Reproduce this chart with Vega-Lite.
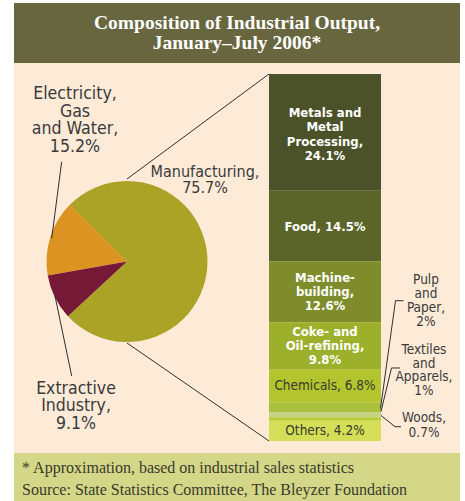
{
  "$schema": "https://vega.github.io/schema/vega-lite/v6.json",
  "width": 465,
  "height": 501,
  "padding": 0,
  "autosize": {"type": "none"},
  "background": "white",
  "config": {"view": {"stroke": null}},
  "datasets": {
    "sectors": [
      {"sector": "Manufacturing", "value": 75.7, "label": "Manufacturing,\n75.7%"},
      {"sector": "Electricity, Gas and Water", "value": 15.2, "label": "Electricity,\nGas\nand Water,\n15.2%"},
      {"sector": "Extractive Industry", "value": 9.1, "label": "Extractive\nIndustry,\n9.1%"}
    ],
    "manufacturing": [
      {"sector": "Metals and Metal Processing", "value": 24.1, "label": "Metals and\nMetal\nProcessing,\n24.1%"},
      {"sector": "Food", "value": 14.5, "label": "Food, 14.5%"},
      {"sector": "Machine-building", "value": 12.6, "label": "Machine-\nbuilding,\n12.6%"},
      {"sector": "Coke- and Oil-refining", "value": 9.8, "label": "Coke- and\nOil-refining,\n9.8%"},
      {"sector": "Chemicals", "value": 6.8, "label": "Chemicals, 6.8%"},
      {"sector": "Pulp and Paper", "value": 2, "label": "Pulp\nand\nPaper,\n2%"},
      {"sector": "Textiles and Apparels", "value": 1, "label": "Textiles\nand\nApparels,\n1%"},
      {"sector": "Woods", "value": 0.7, "label": "Woods,\n0.7%"},
      {"sector": "Others", "value": 4.2, "label": "Others, 4.2%"}
    ],
    "notes": [
      {"title": "Composition of Industrial Output,\nJanuary–July 2006*", "footer": "* Approximation, based on industrial sales statistics\nSource: State Statistics Committee, The Bleyzer Foundation"}
    ]
  },
  "resolve": {"scale": {"color": "independent"}},
  "layer": [
    {
      "data": {"name": "notes"},
      "mark": {"type": "rect", "color": "#fdebd8"},
      "encoding": {
        "x": {"datum": 14, "type": "quantitative", "scale": {"domain": [0, 465], "nice": false, "zero": false}, "axis": null},
        "x2": {"datum": 460},
        "y": {"datum": 77.969, "type": "quantitative", "scale": {"domain": [-12.376, 90.964], "nice": false, "zero": false}, "axis": null},
        "y2": {"datum": -2.475}
      }
    },
    {
      "data": {"name": "notes"},
      "mark": {"type": "rect", "color": "#67663f"},
      "encoding": {
        "x": {"datum": 14, "type": "quantitative", "scale": {"domain": [0, 465], "nice": false, "zero": false}, "axis": null},
        "x2": {"datum": 460},
        "y": {"datum": 90.345, "type": "quantitative", "scale": {"domain": [-12.376, 90.964], "nice": false, "zero": false}, "axis": null},
        "y2": {"datum": 77.969}
      }
    },
    {
      "data": {"name": "notes"},
      "mark": {"type": "rect", "color": "#d3d787"},
      "encoding": {
        "x": {"datum": 14, "type": "quantitative", "scale": {"domain": [0, 465], "nice": false, "zero": false}, "axis": null},
        "x2": {"datum": 460},
        "y": {"datum": -2.475, "type": "quantitative", "scale": {"domain": [-12.376, 90.964], "nice": false, "zero": false}, "axis": null},
        "y2": {"datum": -12.376}
      }
    },
    {
      "data": {"name": "notes"},
      "mark": {"type": "text", "font": "Liberation Serif", "fontWeight": "bold", "fontSize": 19.5, "color": "white", "align": "center", "baseline": "middle", "lineBreak": "\n", "lineHeight": 20, "dy": -10},
      "encoding": {
        "x": {"datum": 237, "type": "quantitative", "scale": {"domain": [0, 465], "nice": false, "zero": false}, "axis": null},
        "y": {"datum": 84.157, "type": "quantitative", "scale": {"domain": [-12.376, 90.964], "nice": false, "zero": false}, "axis": null},
        "text": {"field": "title"}
      }
    },
    {
      "data": {"name": "notes"},
      "mark": {"type": "text", "font": "Liberation Serif", "fontSize": 16, "color": "#3b3a2c", "align": "left", "baseline": "middle", "lineBreak": "\n", "lineHeight": 22, "dy": -11},
      "encoding": {
        "x": {"datum": 22, "type": "quantitative", "scale": {"domain": [0, 465], "nice": false, "zero": false}, "axis": null},
        "y": {"datum": -7.838, "type": "quantitative", "scale": {"domain": [-12.376, 90.964], "nice": false, "zero": false}, "axis": null},
        "text": {"field": "footer"}
      }
    },
    {
      "data": {"name": "sectors"},
      "mark": {"type": "arc", "radius": 80.5},
      "encoding": {
        "theta": {"field": "value", "type": "quantitative", "stack": true, "scale": {"range": [-0.7906, 5.4926]}},
        "order": {"field": "sector", "sort": "descending"},
        "color": {"field": "sector", "type": "nominal", "legend": null, "scale": {"domain": ["Manufacturing", "Extractive Industry", "Electricity, Gas and Water"], "range": ["#aba326", "#761937", "#dc9321"]}},
        "x": {"datum": 127, "type": "quantitative", "scale": {"domain": [0, 465], "nice": false, "zero": false}, "axis": null},
        "y": {"datum": 37.025, "type": "quantitative", "scale": {"domain": [-12.376, 90.964], "nice": false, "zero": false}, "axis": null}
      }
    },
    {
      "data": {"name": "manufacturing"},
      "transform": [
        {"window": [{"op": "row_number", "as": "rank"}]},
        {"stack": "value", "groupby": [], "sort": [{"field": "rank", "order": "descending"}], "as": ["v0", "v1"]}
      ],
      "mark": {"type": "rect"},
      "encoding": {
        "x": {"datum": 269, "type": "quantitative", "scale": {"domain": [0, 465], "nice": false, "zero": false}, "axis": null},
        "x2": {"datum": 381},
        "y": {"field": "v0", "type": "quantitative", "scale": {"domain": [-12.376, 90.964], "nice": false, "zero": false}, "axis": null},
        "y2": {"field": "v1"},
        "color": {"field": "sector", "type": "nominal", "legend": null, "scale": {"domain": ["Metals and Metal Processing", "Food", "Machine-building", "Coke- and Oil-refining", "Chemicals", "Pulp and Paper", "Textiles and Apparels", "Woods", "Others"], "range": ["#4b522a", "#5b6429", "#7e8c2b", "#9cb02b", "#b3c52e", "#a9c03c", "#c4d486", "#b8cc38", "#d4de56"]}}
      }
    },
    {
      "data": {"name": "notes"},
      "mark": {"type": "rule", "color": "#2e2e2e", "strokeWidth": 1},
      "encoding": {
        "x": {"datum": 127, "type": "quantitative", "scale": {"domain": [0, 465], "nice": false, "zero": false}, "axis": null},
        "x2": {"datum": 269},
        "y": {"datum": 54.042, "type": "quantitative", "scale": {"domain": [-12.376, 90.964], "nice": false, "zero": false}, "axis": null},
        "y2": {"datum": 75.7}
      }
    },
    {
      "data": {"name": "notes"},
      "mark": {"type": "rule", "color": "#2e2e2e", "strokeWidth": 1},
      "encoding": {
        "x": {"datum": 127, "type": "quantitative", "scale": {"domain": [0, 465], "nice": false, "zero": false}, "axis": null},
        "x2": {"datum": 269},
        "y": {"datum": 20.214, "type": "quantitative", "scale": {"domain": [-12.376, 90.964], "nice": false, "zero": false}, "axis": null},
        "y2": {"datum": 0}
      }
    },
    {
      "data": {"name": "notes"},
      "mark": {"type": "rule", "color": "#2e2e2e", "strokeWidth": 1},
      "encoding": {
        "x": {"datum": 61.7, "type": "quantitative", "scale": {"domain": [0, 465], "nice": false, "zero": false}, "axis": null},
        "x2": {"datum": 51.7},
        "y": {"datum": 57.61, "type": "quantitative", "scale": {"domain": [-12.376, 90.964], "nice": false, "zero": false}, "axis": null},
        "y2": {"datum": 41.81}
      }
    },
    {
      "data": {"name": "notes"},
      "mark": {"type": "rule", "color": "#2e2e2e", "strokeWidth": 1},
      "encoding": {
        "x": {"datum": 55, "type": "quantitative", "scale": {"domain": [0, 465], "nice": false, "zero": false}, "axis": null},
        "x2": {"datum": 71.7},
        "y": {"datum": 29.909, "type": "quantitative", "scale": {"domain": [-12.376, 90.964], "nice": false, "zero": false}, "axis": null},
        "y2": {"datum": 13.407}
      }
    },
    {
      "data": {"name": "notes"},
      "mark": {"type": "rule", "color": "#2e2e2e", "strokeWidth": 1},
      "encoding": {
        "x": {"datum": 380.5, "type": "quantitative", "scale": {"domain": [0, 465], "nice": false, "zero": false}, "axis": null},
        "x2": {"datum": 395.5},
        "y": {"datum": 6.704, "type": "quantitative", "scale": {"domain": [-12.376, 90.964], "nice": false, "zero": false}, "axis": null},
        "y2": {"datum": 28.939}
      }
    },
    {
      "data": {"name": "notes"},
      "mark": {"type": "rule", "color": "#2e2e2e", "strokeWidth": 1},
      "encoding": {
        "x": {"datum": 395.5, "type": "quantitative", "scale": {"domain": [0, 465], "nice": false, "zero": false}, "axis": null},
        "x2": {"datum": 403.5},
        "y": {"datum": 28.939, "type": "quantitative", "scale": {"domain": [-12.376, 90.964], "nice": false, "zero": false}, "axis": null},
        "y2": {"datum": 28.939}
      }
    },
    {
      "data": {"name": "notes"},
      "mark": {"type": "rule", "color": "#2e2e2e", "strokeWidth": 1},
      "encoding": {
        "x": {"datum": 381, "type": "quantitative", "scale": {"domain": [0, 465], "nice": false, "zero": false}, "axis": null},
        "x2": {"datum": 391.5},
        "y": {"datum": 6.085, "type": "quantitative", "scale": {"domain": [-12.376, 90.964], "nice": false, "zero": false}, "axis": null},
        "y2": {"datum": 15.058}
      }
    },
    {
      "data": {"name": "notes"},
      "mark": {"type": "rule", "color": "#2e2e2e", "strokeWidth": 1},
      "encoding": {
        "x": {"datum": 391.5, "type": "quantitative", "scale": {"domain": [0, 465], "nice": false, "zero": false}, "axis": null},
        "x2": {"datum": 400},
        "y": {"datum": 15.058, "type": "quantitative", "scale": {"domain": [-12.376, 90.964], "nice": false, "zero": false}, "axis": null},
        "y2": {"datum": 15.058}
      }
    },
    {
      "data": {"name": "notes"},
      "mark": {"type": "rule", "color": "#2e2e2e", "strokeWidth": 1},
      "encoding": {
        "x": {"datum": 381, "type": "quantitative", "scale": {"domain": [0, 465], "nice": false, "zero": false}, "axis": null},
        "x2": {"datum": 395},
        "y": {"datum": 5.26, "type": "quantitative", "scale": {"domain": [-12.376, 90.964], "nice": false, "zero": false}, "axis": null},
        "y2": {"datum": 2.95}
      }
    },
    {
      "data": {"name": "notes"},
      "mark": {"type": "rule", "color": "#2e2e2e", "strokeWidth": 1},
      "encoding": {
        "x": {"datum": 395, "type": "quantitative", "scale": {"domain": [0, 465], "nice": false, "zero": false}, "axis": null},
        "x2": {"datum": 401},
        "y": {"datum": 2.95, "type": "quantitative", "scale": {"domain": [-12.376, 90.964], "nice": false, "zero": false}, "axis": null},
        "y2": {"datum": 2.95}
      }
    },
    {
      "data": {"name": "manufacturing"},
      "transform": [{"window": [{"op": "row_number", "as": "rank"}]}],
      "mark": {"type": "text", "font": "DejaVu Sans Condensed", "fontWeight": "bold", "fontSize": 13, "color": "white", "align": "center", "baseline": "middle", "lineBreak": "\n", "lineHeight": 14.5, "dy": -19.5},
      "encoding": {
        "x": {"datum": 325, "type": "quantitative", "scale": {"domain": [0, 465], "nice": false, "zero": false}, "axis": null},
        "y": {"field": "value", "type": "quantitative", "stack": "zero", "bandPosition": 0.5, "scale": {"domain": [-12.376, 90.964], "nice": false, "zero": false}, "axis": null},
        "order": {"field": "rank", "type": "quantitative", "sort": "descending"},
        "detail": {"field": "sector"},
        "text": {"condition": {"test": "datum.sector === 'Metals and Metal Processing'", "field": "label"}, "value": ""}
      }
    },
    {
      "data": {"name": "manufacturing"},
      "transform": [{"window": [{"op": "row_number", "as": "rank"}]}],
      "mark": {"type": "text", "font": "DejaVu Sans Condensed", "fontWeight": "bold", "fontSize": 13, "color": "white", "align": "center", "baseline": "middle", "lineBreak": "\n", "lineHeight": 13.8, "dy": -13.5},
      "encoding": {
        "x": {"datum": 325, "type": "quantitative", "scale": {"domain": [0, 465], "nice": false, "zero": false}, "axis": null},
        "y": {"field": "value", "type": "quantitative", "stack": "zero", "bandPosition": 0.5, "scale": {"domain": [-12.376, 90.964], "nice": false, "zero": false}, "axis": null},
        "order": {"field": "rank", "type": "quantitative", "sort": "descending"},
        "detail": {"field": "sector"},
        "text": {"condition": {"test": "datum.sector === 'Machine-building' || datum.sector === 'Coke- and Oil-refining'", "field": "label"}, "value": ""}
      }
    },
    {
      "data": {"name": "manufacturing"},
      "transform": [{"window": [{"op": "row_number", "as": "rank"}]}],
      "mark": {"type": "text", "font": "DejaVu Sans Condensed", "fontWeight": "bold", "fontSize": 13, "color": "white", "align": "center", "baseline": "middle", "dy": 1.5},
      "encoding": {
        "x": {"datum": 325, "type": "quantitative", "scale": {"domain": [0, 465], "nice": false, "zero": false}, "axis": null},
        "y": {"field": "value", "type": "quantitative", "stack": "zero", "bandPosition": 0.5, "scale": {"domain": [-12.376, 90.964], "nice": false, "zero": false}, "axis": null},
        "order": {"field": "rank", "type": "quantitative", "sort": "descending"},
        "detail": {"field": "sector"},
        "text": {"condition": {"test": "datum.sector === 'Food'", "field": "label"}, "value": ""}
      }
    },
    {
      "data": {"name": "manufacturing"},
      "transform": [{"window": [{"op": "row_number", "as": "rank"}]}],
      "mark": {"type": "text", "font": "DejaVu Sans Condensed", "fontSize": 13.5, "color": "#3a3a30", "align": "center", "baseline": "middle"},
      "encoding": {
        "x": {"datum": 325, "type": "quantitative", "scale": {"domain": [0, 465], "nice": false, "zero": false}, "axis": null},
        "y": {"field": "value", "type": "quantitative", "stack": "zero", "bandPosition": 0.5, "scale": {"domain": [-12.376, 90.964], "nice": false, "zero": false}, "axis": null},
        "order": {"field": "rank", "type": "quantitative", "sort": "descending"},
        "detail": {"field": "sector"},
        "text": {"condition": {"test": "datum.sector === 'Chemicals' || datum.sector === 'Others'", "field": "label"}, "value": ""}
      }
    },
    {
      "data": {"name": "manufacturing"},
      "transform": [{"filter": "datum.sector === 'Pulp and Paper'"}],
      "mark": {"type": "text", "font": "DejaVu Sans Condensed", "fontSize": 13.5, "color": "#3a3a3a", "align": "center", "baseline": "middle", "lineBreak": "\n", "lineHeight": 14, "dy": -19.5},
      "encoding": {
        "x": {"datum": 426, "type": "quantitative", "scale": {"domain": [0, 465], "nice": false, "zero": false}, "axis": null},
        "y": {"datum": 29.084, "type": "quantitative", "scale": {"domain": [-12.376, 90.964], "nice": false, "zero": false}, "axis": null},
        "text": {"field": "label"}
      }
    },
    {
      "data": {"name": "manufacturing"},
      "transform": [{"filter": "datum.sector === 'Textiles and Apparels'"}],
      "mark": {"type": "text", "font": "DejaVu Sans Condensed", "fontSize": 13.5, "color": "#3a3a3a", "align": "center", "baseline": "middle", "lineBreak": "\n", "lineHeight": 13.5, "dy": -19},
      "encoding": {
        "x": {"datum": 424, "type": "quantitative", "scale": {"domain": [0, 465], "nice": false, "zero": false}, "axis": null},
        "y": {"datum": 14.851, "type": "quantitative", "scale": {"domain": [-12.376, 90.964], "nice": false, "zero": false}, "axis": null},
        "text": {"field": "label"}
      }
    },
    {
      "data": {"name": "manufacturing"},
      "transform": [{"filter": "datum.sector === 'Woods'"}],
      "mark": {"type": "text", "font": "DejaVu Sans Condensed", "fontSize": 13.5, "color": "#3a3a3a", "align": "center", "baseline": "middle", "lineBreak": "\n", "lineHeight": 15, "dy": -7},
      "encoding": {
        "x": {"datum": 424, "type": "quantitative", "scale": {"domain": [0, 465], "nice": false, "zero": false}, "axis": null},
        "y": {"datum": 3.403, "type": "quantitative", "scale": {"domain": [-12.376, 90.964], "nice": false, "zero": false}, "axis": null},
        "text": {"field": "label"}
      }
    },
    {
      "data": {"name": "sectors"},
      "transform": [{"filter": "datum.sector === 'Electricity, Gas and Water'"}],
      "mark": {"type": "text", "font": "DejaVu Sans Condensed", "fontSize": 17.6, "color": "#3a3a3a", "align": "center", "baseline": "middle", "lineBreak": "\n", "lineHeight": 17.6, "dy": -26},
      "encoding": {
        "x": {"datum": 75, "type": "quantitative", "scale": {"domain": [0, 465], "nice": false, "zero": false}, "axis": null},
        "y": {"datum": 66.212, "type": "quantitative", "scale": {"domain": [-12.376, 90.964], "nice": false, "zero": false}, "axis": null},
        "text": {"field": "label"}
      }
    },
    {
      "data": {"name": "sectors"},
      "transform": [{"filter": "datum.sector === 'Manufacturing'"}],
      "mark": {"type": "text", "font": "DejaVu Sans Condensed", "fontSize": 16, "color": "#3a3a3a", "align": "center", "baseline": "middle", "lineBreak": "\n", "lineHeight": 16, "dy": -8},
      "encoding": {
        "x": {"datum": 205, "type": "quantitative", "scale": {"domain": [0, 465], "nice": false, "zero": false}, "axis": null},
        "y": {"datum": 53.836, "type": "quantitative", "scale": {"domain": [-12.376, 90.964], "nice": false, "zero": false}, "axis": null},
        "text": {"field": "label"}
      }
    },
    {
      "data": {"name": "sectors"},
      "transform": [{"filter": "datum.sector === 'Extractive Industry'"}],
      "mark": {"type": "text", "font": "DejaVu Sans Condensed", "fontSize": 17.5, "color": "#3a3a3a", "align": "center", "baseline": "middle", "lineBreak": "\n", "lineHeight": 17.5, "dy": -17.5},
      "encoding": {
        "x": {"datum": 76, "type": "quantitative", "scale": {"domain": [0, 465], "nice": false, "zero": false}, "axis": null},
        "y": {"datum": 7.219, "type": "quantitative", "scale": {"domain": [-12.376, 90.964], "nice": false, "zero": false}, "axis": null},
        "text": {"field": "label"}
      }
    }
  ]
}
